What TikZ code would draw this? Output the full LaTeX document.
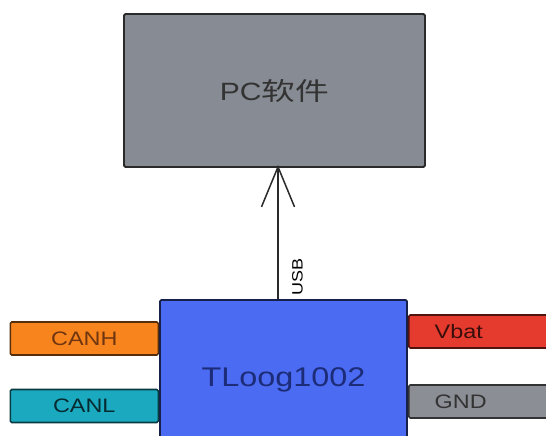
\documentclass[tikz,border=0pt]{standalone}
\usepackage{fontspec}
\setmainfont{Liberation Sans}[FakeStretch=1.2]
\newfontfamily\cjk{Noto Sans CJK SC}[FakeStretch=1.35]
\usepackage{xcolor}
\definecolor{cPC}{HTML}{878B93}
\definecolor{cChip}{HTML}{4B6BF2}
\definecolor{cChipText}{HTML}{1C2C78}
\definecolor{cCanH}{HTML}{F8841E}
\definecolor{cCanHText}{HTML}{6E3510}
\definecolor{cCanL}{HTML}{1AA9BF}
\definecolor{cVbat}{HTML}{E53A2E}
\definecolor{cGnd}{HTML}{8B8E95}
\definecolor{cLine}{HTML}{2A2A2A}
\usepackage{tikz}
\usetikzlibrary{positioning,arrows.meta}
\tikzset{
  box-pc/.style={draw=cLine,line width=1.8pt,rounded corners=1.5pt,fill=cPC,
    minimum width=301pt,minimum height=153pt,text=black!80,
    font=\fontsize{25}{28}\selectfont},
  box-chip/.style={draw=black!70!cChip,line width=1.8pt,rounded corners=1.5pt,
    fill=cChip,minimum width=247pt,minimum height=160pt,text=cChipText,
    font=\fontsize{27}{30}\selectfont},
  pin/.style={line width=1.6pt,rounded corners=1.5pt,minimum height=33pt,
    inner sep=0pt,font=\fontsize{19.5}{22}\selectfont},
  pin-left/.style={pin,minimum width=148pt,anchor=east},
  pin-right/.style={pin,text width=100pt,align=left,inner xsep=26pt,anchor=west},
  arrow-usb/.style={-{Straight Barb[length=40pt,width=33pt,line width=1.5pt]},
    line width=1.5pt,draw=cLine,shorten >=-3pt},
}
\begin{document}
\begin{tikzpicture}[x=1pt,y=-1pt]
  \useasboundingbox[fill=white] (0,0) rectangle (546,436);
  \node[box-pc] (pc) at (274.5,90.5) {PC\cjk 软件};
  \node[box-chip,anchor=north] (chip) at (283.5,299) {TLoog1002};
  \node[pin-left,fill=cCanH,draw=black!65!cCanH,text=cCanHText]
    (canh) at (chip.west |- 0,338.5) {CANH};
  \node[pin-left,fill=cCanL,draw=black!65!cCanL,text=black!75!cCanL]
    (canl) at (chip.west |- 0,406) {CANL};
  \node[pin-right,fill=cVbat,draw=black!65!cVbat,text=black!75!cVbat]
    (vbat) at (chip.east |- 0,331.5) {Vbat};
  \node[pin-right,fill=cGnd,draw=black!65!cGnd,text=black!80]
    (gnd) at (chip.east |- 0,401.5) {GND};
  % USB link up to the PC
  \draw[arrow-usb] ([xshift=-5.5pt]chip.north) -- ([xshift=-5.5pt]chip.north |- pc.south)
    node[pos=0.17,rotate=90,anchor=north,yshift=-10pt,font=\fontsize{15}{17}\selectfont] (usb) {USB};
\end{tikzpicture}
\end{document}
